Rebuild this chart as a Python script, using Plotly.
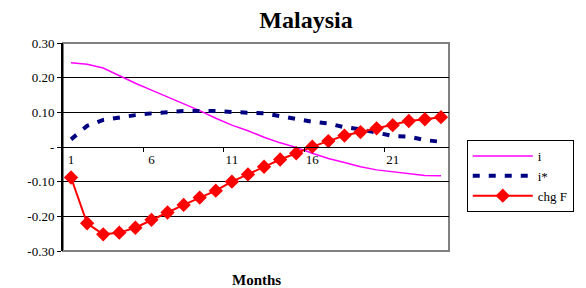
import plotly.graph_objects as go

months = list(range(1, 25))
i_vals = [0.243, 0.239, 0.228, 0.205, 0.184, 0.164, 0.145, 0.126, 0.105, 0.083,
          0.063, 0.047, 0.028, 0.012, -0.001, -0.018, -0.033, -0.045, -0.057, -0.066,
          -0.071, -0.076, -0.082, -0.083]
istar_vals = [0.022, 0.061, 0.078, 0.086, 0.092, 0.097, 0.101, 0.104, 0.104, 0.104,
              0.101, 0.099, 0.097, 0.089, 0.081, 0.073, 0.068, 0.057, 0.051, 0.041,
              0.032, 0.030, 0.020, 0.015]
chgF_vals = [-0.088, -0.220, -0.252, -0.247, -0.233, -0.210, -0.189, -0.167, -0.146, -0.126,
             -0.100, -0.079, -0.057, -0.036, -0.018, 0.001, 0.017, 0.033, 0.043, 0.054,
             0.063, 0.075, 0.080, 0.086]
x_tickvals = [1, 6, 11, 16, 21]
y_tickvals = [-0.3, -0.2, -0.1, 0, 0.1, 0.2, 0.3]
y_ticktext = ["-0.30", "-0.20", "-0.10", "-", "0.10", "0.20", "0.30"]

font = "Liberation Serif, Times New Roman, serif"

fig = go.Figure()
fig.add_trace(go.Scatter(x=months, y=i_vals, name="i", mode="lines",
                         line=dict(color="#FF00FF", width=1.5)))
fig.add_trace(go.Scatter(x=months, y=istar_vals, name="i*", mode="lines",
                         line=dict(color="#000080", width=4, dash="7px,9px")))
fig.add_trace(go.Scatter(x=months, y=chgF_vals, name="chg F", mode="lines+markers",
                         line=dict(color="#FF0000", width=2),
                         marker=dict(symbol="diamond", size=11, color="#FF0000")))

fig.update_layout(
    width=586, height=288,
    margin=dict(l=63, r=134, t=43, b=37),
    paper_bgcolor="white", plot_bgcolor="white",
    font=dict(family=font, size=13, color="black"),
    title=dict(text="<b>Malaysia</b>", x=306/586, xanchor="center", y=1-20/288, yanchor="middle",
               font=dict(family=font, size=24, color="black")),
    showlegend=True,
    legend=dict(x=1.046, y=0.534, xanchor="left", yanchor="top",
                bordercolor="black", borderwidth=1, bgcolor="white",
                font=dict(family=font, size=13), tracegroupgap=0,
                itemwidth=60),
    xaxis=dict(range=[0.5, 24.5], tickvals=x_tickvals, ticktext=[str(v) for v in x_tickvals],
               ticks="", showgrid=False, zeroline=False,
               showline=True, linecolor="black", linewidth=1,
               anchor="free", position=0.5,
               minor=dict(tickvals=[5.5, 10.5, 15.5, 20.5], ticks="outside", ticklen=4,
                          tickcolor="black", showgrid=False),
               tickfont=dict(family=font, size=13)),
    yaxis=dict(range=[-0.3, 0.3], tickvals=y_tickvals, ticktext=y_ticktext,
               ticks="outside", ticklen=4, tickcolor="black",
               showgrid=True, gridcolor="black", gridwidth=1, zeroline=False,
               showline=True, linecolor="black", linewidth=2,
               tickfont=dict(family=font, size=13)),
    shapes=[dict(type="rect", xref="paper", yref="paper", x0=0, x1=1, y0=0, y1=1,
                 line=dict(color="#808080", width=2), layer="below")],
    annotations=[dict(text="<b>Months</b>", xref="paper", yref="paper", x=0.5, y=-19/208,
                      xanchor="center", yanchor="top", showarrow=False,
                      font=dict(family=font, size=15))],
)

fig.write_html("out.html", config={"displayModeBar": False},
               post_script="document.body.style.margin='0';")
